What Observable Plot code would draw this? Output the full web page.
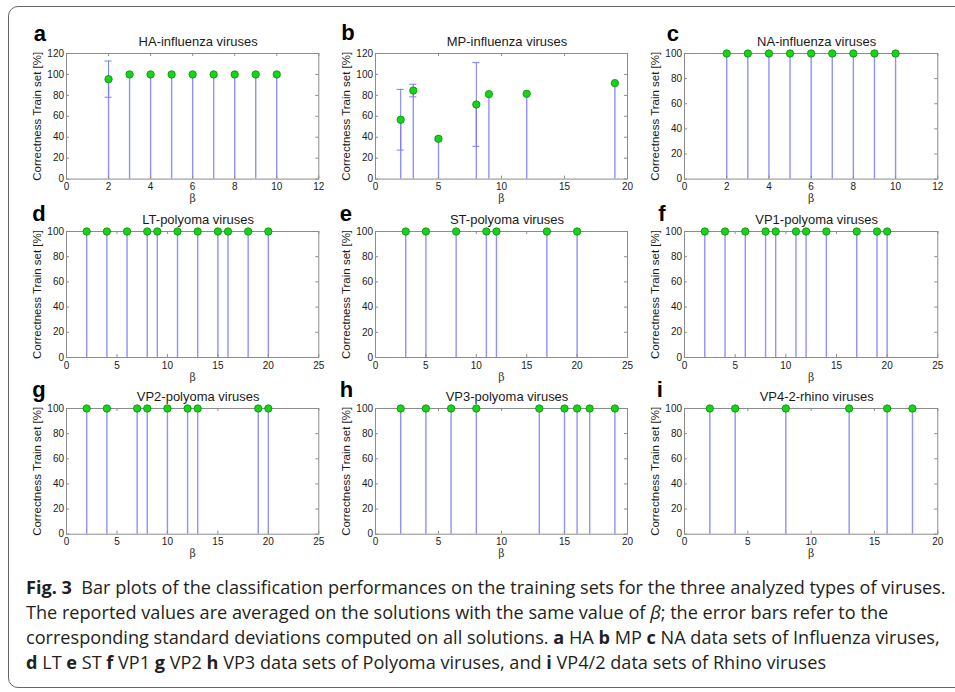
<!DOCTYPE html>
<html>
<head>
<meta charset="utf-8">
<script src="https://cdn.jsdelivr.net/npm/d3@7"></script>
<script src="https://cdn.jsdelivr.net/npm/@observablehq/plot@0.6"></script>
<style>
html, body { margin: 0; padding: 0; background: #fff; }
body { width: 955px; height: 692px; overflow: hidden; position: relative; }
#frame { position: absolute; left: 8px; top: 6px; width: 990px; height: 682px; border: 1.5px solid #666; border-radius: 10px; box-sizing: border-box; }
#panels { position: absolute; left: 0; top: 0; width: 955px; height: 692px; }
#panels svg { position: absolute; }
#caption { position: absolute; left: 26px; top: 575px; font-family: "Open Sans", "Noto Sans", sans-serif; font-size: 15px; line-height: 25px; color: #231f20; white-space: nowrap; }
#caption .row { display: block; height: 25px; }
#caption .ln { display: inline-block; }
</style>
</head>
<body>
<div id="frame"></div>
<div id="panels"></div>
<div id="caption">
  <div class="row"><span class="ln"><b>Fig. 3</b>&nbsp; Bar plots of the classification performances on the training sets for the three analyzed types of viruses.</span></div>
  <div class="row"><span class="ln">The reported values are averaged on the solutions with the same value of <i>β</i>; the error bars refer to the</span></div>
  <div class="row"><span class="ln">corresponding standard deviations computed on all solutions. <b>a</b> HA <b>b</b> MP <b>c</b> NA data sets of Influenza viruses,</span></div>
  <div class="row"><span class="ln"><b>d</b> LT <b>e</b> ST <b>f</b> VP1 <b>g</b> VP2 <b>h</b> VP3 data sets of Polyoma viruses, and <b>i</b> VP4/2 data sets of Rhino viruses</span></div>
</div>
<script>
// ---------- data ----------
const xTicks12 = [0, 2, 4, 6, 8, 10, 12];
const xTicks20 = [0, 5, 10, 15, 20];
const xTicks25 = [0, 5, 10, 15, 20, 25];
const yTicks120 = [0, 20, 40, 60, 80, 100, 120];
const yTicks100 = [0, 20, 40, 60, 80, 100];

const haBeta  = [2, 3, 4, 5, 6, 7, 8, 9, 10];
const haValue = [95.5, 100, 100, 100, 100, 100, 100, 100, 100];
const haErr   = [17.3, 0, 0, 0, 0, 0, 0, 0, 0];

const mpBeta  = [2, 3, 5, 8, 9, 12, 19];
const mpValue = [56.7, 84.6, 38.5, 71.3, 81.2, 81.5, 91.7];
const mpErr   = [29, 6, 1.5, 40, 0, 0, 0];

const naBeta  = [2, 3, 4, 5, 6, 7, 8, 9, 10];
const naValue = [100, 100, 100, 100, 100, 100, 100, 100, 100];
const naErr   = [0, 0, 0, 0, 0, 0, 0, 0, 0];

const ltBeta  = [2, 4, 6, 8, 9, 11, 13, 15, 16, 18, 20];
const ltValue = [100, 100, 100, 100, 100, 100, 100, 100, 100, 100, 100];
const ltErr   = [0, 0, 0, 0, 0, 0, 0, 0, 0, 0, 0];

const stBeta  = [3, 5, 8, 11, 12, 17, 20];
const stValue = [100, 100, 100, 100, 100, 100, 100];
const stErr   = [0, 0, 0, 0, 0, 0, 0];

const vp1Beta  = [2, 4, 6, 8, 9, 11, 12, 14, 17, 19, 20];
const vp1Value = [100, 100, 100, 100, 100, 100, 100, 100, 100, 100, 100];
const vp1Err   = [0, 0, 0, 0, 0, 0, 0, 0, 0, 0, 0];

const vp2Beta  = [2, 4, 7, 8, 10, 12, 13, 19, 20];
const vp2Value = [100, 100, 100, 100, 100, 100, 100, 100, 100];
const vp2Err   = [0, 0, 0, 0, 0, 0, 0, 0, 0];

const vp3Beta  = [2, 4, 6, 8, 13, 15, 16, 17, 19];
const vp3Value = [100, 100, 100, 100, 100, 100, 100, 100, 100];
const vp3Err   = [0, 0, 0, 0, 0, 0, 0, 0, 0];

const vp42Beta  = [2, 4, 8, 13, 16, 18];
const vp42Value = [100, 100, 100, 100, 100, 100];
const vp42Err   = [0, 0, 0, 0, 0, 0];

const titles  = ["HA-influenza viruses", "MP-influenza viruses", "NA-influenza viruses",
                 "LT-polyoma viruses", "ST-polyoma viruses", "VP1-polyoma viruses",
                 "VP2-polyoma viruses", "VP3-polyoma viruses", "VP4-2-rhino viruses"];
const letters = ["a", "b", "c", "d", "e", "f", "g", "h", "i"];
const yLabel = "Correctness Train set [%]";
const xLabel = "β";

// ---------- layout (page px) ----------
const colL = [65.7, 375.3, 683.7], colR = [318, 627.3, 937];
const rowT = [52.7, 230.7, 408.3], rowB = [178.3, 356.7, 534];
const letterPos = [[33, 40], [341, 39.5], [666, 40], [31.5, 220], [339.5, 220], [657.5, 220], [31.5, 397], [339.5, 397], [656, 397]];

const panels = [
  {beta: haBeta, value: haValue, err: haErr, xmax: 12, xticks: xTicks12, ymax: 120, yticks: yTicks120},
  {beta: mpBeta, value: mpValue, err: mpErr, xmax: 20, xticks: xTicks20, ymax: 120, yticks: yTicks120},
  {beta: naBeta, value: naValue, err: naErr, xmax: 12, xticks: xTicks12, ymax: 100, yticks: yTicks100},
  {beta: ltBeta, value: ltValue, err: ltErr, xmax: 25, xticks: xTicks25, ymax: 100, yticks: yTicks100},
  {beta: stBeta, value: stValue, err: stErr, xmax: 25, xticks: xTicks25, ymax: 100, yticks: yTicks100},
  {beta: vp1Beta, value: vp1Value, err: vp1Err, xmax: 25, xticks: xTicks25, ymax: 100, yticks: yTicks100},
  {beta: vp2Beta, value: vp2Value, err: vp2Err, xmax: 25, xticks: xTicks25, ymax: 100, yticks: yTicks100},
  {beta: vp3Beta, value: vp3Value, err: vp3Err, xmax: 20, xticks: xTicks20, ymax: 100, yticks: yTicks100},
  {beta: vp42Beta, value: vp42Value, err: vp42Err, xmax: 20, xticks: xTicks20, ymax: 100, yticks: yTicks100}
];

const FRAME = "#8c8c8c";
const TXT = "#1a1a1a";
const container = document.getElementById("panels");

panels.forEach((p, k) => {
  const col = k % 3, row = Math.floor(k / 3);
  const L = colL[col], R = colR[col], T = rowT[row], B = rowB[row];
  const fw = R - L, fh = B - T;
  const ml = 60, mr = 30, mt = 45, mb = 35;
  const data = p.beta.map((b, i) => ({beta: b, value: p.value[i], lo: p.value[i] - p.err[i], hi: p.value[i] + p.err[i], err: p.err[i]}));
  const errData = data.filter(d => d.err > 0);
  const [lx, ly] = letterPos[k];
  const svg = Plot.plot({
    width: fw + ml + mr,
    height: fh + mt + mb,
    marginLeft: ml, marginRight: mr, marginTop: mt, marginBottom: mb,
    style: {background: "transparent", overflow: "visible", fontFamily: "'Liberation Sans', Arial, Helvetica, sans-serif", fontSize: "10px", color: TXT},
    x: {domain: [0, p.xmax], ticks: p.xticks, tickSize: 0, tickPadding: 4, label: null},
    y: {domain: [0, p.ymax], ticks: p.yticks, tickSize: 0, tickPadding: 2.5, label: null},
    marks: [
      Plot.ruleX(data, {x: "beta", y1: 0, y2: "value", stroke: "#9090ff", strokeWidth: 1.4}),
      Plot.ruleX(errData, {x: "beta", y1: "lo", y2: "hi", stroke: "#7a7aff", strokeWidth: 1}),
      Plot.ruleY(errData, {x1: "beta", x2: "beta", y: "hi", insetLeft: -3.5, insetRight: -3.5, stroke: "#7a7aff", strokeWidth: 1}),
      Plot.ruleY(errData, {x1: "beta", x2: "beta", y: "lo", insetLeft: -3.5, insetRight: -3.5, stroke: "#7a7aff", strokeWidth: 1}),
      Plot.frame({stroke: FRAME, strokeWidth: 1}),
      Plot.tickX(p.xticks, {x: d => d, insetTop: fh - 3, stroke: FRAME}),
      Plot.tickX(p.xticks, {x: d => d, insetBottom: fh - 3, stroke: FRAME}),
      Plot.tickY(p.yticks, {y: d => d, insetRight: fw - 3, stroke: FRAME}),
      Plot.tickY(p.yticks, {y: d => d, insetLeft: fw - 3, stroke: FRAME}),
      Plot.dot(data, {x: "beta", y: "value", r: 3.7, fill: "#18d418", stroke: "#0a8a0a", strokeWidth: 0.8}),
      Plot.text([titles[k]], {frameAnchor: "top", textAnchor: "middle", lineAnchor: "middle", dy: -12, dx: 5.5, fontSize: 13, fill: TXT}),
      Plot.text([yLabel], {frameAnchor: "left", textAnchor: "middle", lineAnchor: "middle", rotate: -90, dx: -29, fontSize: 11.5, fill: TXT}),
      Plot.text([xLabel], {frameAnchor: "bottom", textAnchor: "middle", lineAnchor: "middle", dy: 19.5, fontSize: 11, fill: "#333", fontFamily: "'DejaVu Serif', serif"}),
      Plot.text([letters[k]], {frameAnchor: "top-left", textAnchor: "start", lineAnchor: "bottom", dx: lx - L, dy: ly - T, fontSize: 22, fontWeight: "bold", fill: "#000"})
    ]
  });
  svg.style.left = (L - ml) + "px";
  svg.style.top = (T - mt) + "px";
  container.appendChild(svg);
});

// scale the caption font so that its first line spans the width seen in the reference
const cap = document.getElementById("caption");
const first = cap.querySelector(".ln");
const w1 = first.getBoundingClientRect().width;
cap.style.fontSize = (15 * 920 / w1).toFixed(2) + "px";
</script>
</body>
</html>
